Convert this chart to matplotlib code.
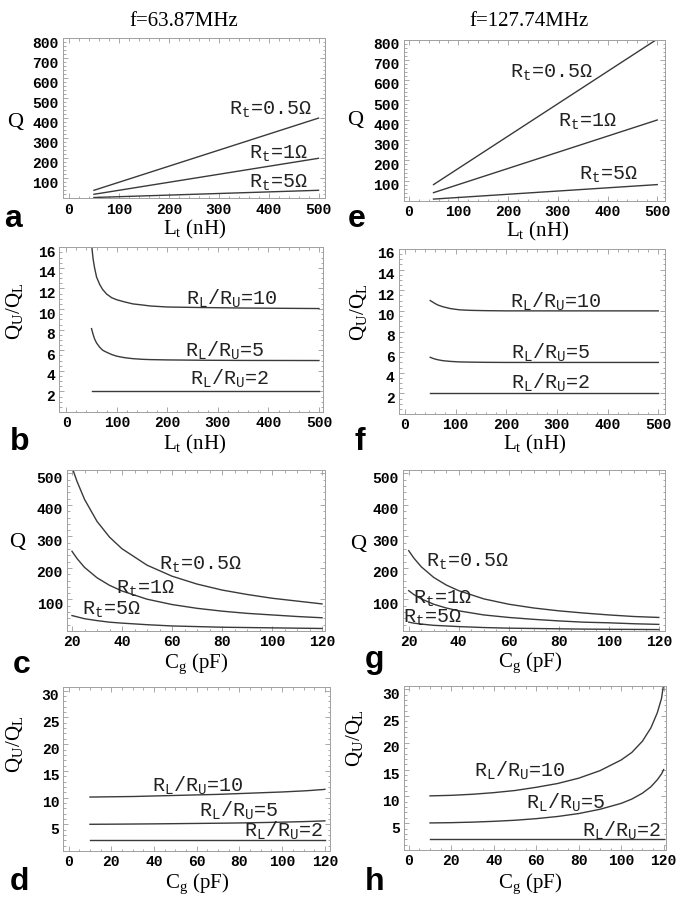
import numpy as np
import matplotlib.pyplot as plt
import matplotlib.transforms as mtransforms
from matplotlib.ticker import MultipleLocator

plt.rcParams['mathtext.fontset'] = 'custom'
plt.rcParams['mathtext.rm'] = 'Liberation Serif'
plt.rcParams['mathtext.tt'] = 'Liberation Mono'

# ---- values ----
# a / e : Q vs Lt, straight lines
lt_line = [50, 500]
qa_r05 = [40, 401]
qa_r1 = [20, 200]
qa_r5 = [4, 40]
qe_r05 = [80, 803]
qe_r1 = [40, 401]
qe_r5 = [8, 80]

# b : QU/QL vs Lt at 63.87 MHz
lt_b = [50, 53, 56, 60, 66, 72, 80, 90, 100, 115, 132, 150, 166, 200, 265, 350, 500]
rb_10 = [16.3, 14.9, 14.0, 13.1, 12.4, 11.9, 11.45, 11.1, 10.9, 10.7, 10.5, 10.4, 10.3, 10.2, 10.15, 10.1, 10.05]
rb_5 = [8.1, 7.55, 7.1, 6.7, 6.3, 6.0, 5.8, 5.58, 5.42, 5.28, 5.18, 5.12, 5.09, 5.06, 5.03, 5.01, 5.0]
rb_2 = [2.0, 2.0]

# f : QU/QL vs Lt at 127.74 MHz
lt_f = [50, 55, 60, 66, 75, 90, 108, 130, 160, 200, 300, 500]
rf_10 = [11.0, 10.85, 10.7, 10.55, 10.4, 10.22, 10.1, 10.05, 10.02, 10.0, 10.0, 10.0]
rf_5 = [5.5, 5.4, 5.32, 5.25, 5.17, 5.1, 5.05, 5.03, 5.01, 5.0, 5.0, 5.0]
rf_2 = [2.0, 2.0]

# c / g : Q vs Cg
cg_q = [20, 22, 25, 30, 35, 40, 50, 60, 70, 80, 90, 100, 110, 120]
qc_r05 = [520, 475, 418, 348, 298, 261, 209, 174, 149, 130, 116, 104, 95, 86]
qc_r1 = [253, 230, 202, 169, 145, 127, 101, 84, 72, 63, 56, 51, 46, 42]
qc_r5 = [49, 45, 39, 33, 28, 25, 20, 16, 14, 12, 11, 10, 9, 8]
qg_r05 = [255, 232, 204, 170, 146, 128, 102, 85, 73, 64, 57, 51, 46, 43]
qg_r1 = [128, 116, 102, 85, 73, 64, 51, 43, 37, 32, 28, 26, 23, 21]
qg_r5 = [28, 25, 22, 18, 16, 14, 11, 9, 8, 7, 6, 5.5, 5, 4.5]

# d / h : QU/QL vs Cg
cg_r = [10, 20, 30, 40, 50, 60, 70, 80, 90, 100, 105, 110, 114, 117, 119, 120]
rd_10 = [10.1, 10.15, 10.2, 10.3, 10.4, 10.5, 10.6, 10.75, 10.9, 11.05, 11.15, 11.25, 11.35, 11.45, 11.5, 11.55]
rd_5 = [5.0, 5.02, 5.05, 5.08, 5.12, 5.16, 5.2, 5.25, 5.32, 5.4, 5.45, 5.5, 5.55, 5.6, 5.62, 5.65]
rh_10 = [10.1, 10.2, 10.4, 10.7, 11.1, 11.7, 12.4, 13.4, 14.8, 16.8, 18.2, 20.3, 22.8, 25.6, 28.3, 31.0]
rh_5 = [5.05, 5.1, 5.2, 5.35, 5.55, 5.85, 6.25, 6.8, 7.6, 8.7, 9.5, 10.6, 11.8, 13.1, 14.2, 15.0]
cg_flat = [10, 120]
r_2 = [2.0, 2.0]

lbl_r05 = r'R$_\mathtt{t}$=0.5Ω'
lbl_r1 = r'R$_\mathtt{t}$=1Ω'
lbl_r5 = r'R$_\mathtt{t}$=5Ω'
lbl_10 = r'R$_\mathtt{L}$/R$_\mathtt{U}$=10'
lbl_5 = r'R$_\mathtt{L}$/R$_\mathtt{U}$=5'
lbl_2 = r'R$_\mathtt{L}$/R$_\mathtt{U}$=2'

W, H = 684, 904
fig = plt.figure(figsize=(W / 100, H / 100), dpi=100)
LINE = '#3a3a3a'


def box(l, r, t, b):
    return [l / W, 1 - b / H, (r - l) / W, (b - t) / H]


def at(x, y):
    return x / W, 1 - y / H


def panel(rect, xlim, ylim, xt, yt, xminor, yminor):
    ax = fig.add_axes(box(*rect))
    ax.set_xlim(*xlim)
    ax.set_ylim(*ylim)
    tf = dict(fontfamily='Liberation Mono', fontweight='bold', fontsize=10.5)
    ax.set_xticks(xt, labels=[str(v) for v in xt], **tf)
    ax.set_yticks(yt, labels=[str(v) for v in yt], **tf)
    ax.xaxis.set_minor_locator(MultipleLocator(xminor))
    ax.yaxis.set_minor_locator(MultipleLocator(yminor))
    ax.tick_params(which='both', direction='in', top=True, right=True,
                   color='#9a9a9a', width=0.6)
    ax.tick_params(which='major', length=3.5)
    ax.tick_params(which='minor', length=1.8)
    ax.tick_params(axis='x', pad=2.5)
    ax.tick_params(axis='y', pad=3)
    for sp in ax.spines.values():
        sp.set_color('#a0a0a0')
        sp.set_linewidth(0.7)
    shift = mtransforms.ScaledTranslation(0, -3 / 100, fig.dpi_scale_trans)
    for t in ax.get_yticklabels():
        t.set_transform(t.get_transform() + shift)
    return ax


def tag(ax, x, y, s):
    ax.text(x, y, s, family='Liberation Mono', fontsize=14.5, ha='center',
            va='baseline', color='#222222')


def label(x, y, s, rot=0, size=15):
    fig.text(*at(x, y), s, family='Liberation Serif', fontsize=size,
             ha='center', va='center', rotation=rot)


def letter(x, y, s):
    fig.text(*at(x, y), s, family='Liberation Sans', fontweight='bold',
             fontsize=23, ha='center', va='center')


# a
ax = panel((62.7, 325, 39.3, 199.3), (-12.6, 513), (0, 800),
           [0, 100, 200, 300, 400, 500], list(range(100, 801, 100)), 20, 20)
for q in (qa_r05, qa_r1, qa_r5):
    ax.plot(lt_line, q, color=LINE, lw=1.0)
tag(ax, 403, 421, lbl_r05)
tag(ax, 420, 205, lbl_r1)
tag(ax, 420, 60, lbl_r5)

# e
ax = panel((403.7, 664.7, 40.7, 201.7), (-10, 515), (0, 800),
           [0, 100, 200, 300, 400, 500], list(range(100, 801, 100)), 20, 20)
for q in (qe_r05, qe_r1, qe_r5):
    ax.plot(lt_line, q, color=LINE, lw=1.0)
tag(ax, 287, 614, lbl_r05)
tag(ax, 359, 373, lbl_r1)
tag(ax, 402, 108, lbl_r5)

# b
ax = panel((59.3, 323, 248.3, 413), (-13.8, 508), (0, 16),
           [0, 100, 200, 300, 400, 500], list(range(2, 17, 2)), 20, 0.5)
ax.plot(lt_b, rb_10, color=LINE, lw=1.0)
ax.plot(lt_b, rb_5, color=LINE, lw=1.0)
ax.plot(lt_line, rb_2, color=LINE, lw=1.0)
tag(ax, 328, 10.5, lbl_10)
tag(ax, 313, 5.46, lbl_5)
tag(ax, 324, 2.71, lbl_2)

# f
ax = panel((398.7, 664.7, 250, 415), (-12.2, 512.7), (0, 16),
           [0, 100, 200, 300, 400, 500], list(range(2, 17, 2)), 20, 0.5)
ax.plot(lt_f, rf_10, color=LINE, lw=1.0)
ax.plot(lt_f, rf_5, color=LINE, lw=1.0)
ax.plot(lt_line, rf_2, color=LINE, lw=1.0)
tag(ax, 297, 10.41, lbl_10)
tag(ax, 287, 5.45, lbl_5)
tag(ax, 287, 2.57, lbl_2)

# c
ax = panel((67, 325, 471, 632), (18, 121.2), (0, 511),
           [20, 40, 60, 80, 100, 120], list(range(100, 501, 100)), 5, 20)
for q in (qc_r05, qc_r1, qc_r5):
    ax.plot(cg_q, q, color=LINE, lw=1.0)
tag(ax, 71.5, 197, lbl_r05)
tag(ax, 49.2, 123, lbl_r1)
tag(ax, 35.8, 54, lbl_r5)

# g
ax = panel((402.7, 665.3, 471, 632), (17.6, 122.6), (0, 511),
           [20, 40, 60, 80, 100, 120], list(range(100, 501, 100)), 5, 20)
for q in (qg_r05, qg_r1, qg_r5):
    ax.plot(cg_q, q, color=LINE, lw=1.0)
tag(ax, 43.6, 207, lbl_r05)
tag(ax, 33.6, 90, lbl_r1)
tag(ax, 29.6, 31, lbl_r5)

# d
ax = panel((63.3, 330, 688, 852), (-2.5, 122.4), (0, 30.7),
           [0, 20, 40, 60, 80, 100, 120], list(range(5, 31, 5)), 5, 1)
ax.plot(cg_r, rd_10, color=LINE, lw=1.0)
ax.plot(cg_r, rd_5, color=LINE, lw=1.0)
ax.plot(cg_flat, r_2, color=LINE, lw=1.0)
tag(ax, 60.3, 11.2, lbl_10)
tag(ax, 79.8, 6.56, lbl_5)
tag(ax, 100.9, 2.85, lbl_2)

# h
ax = panel((403.7, 666, 687, 851), (-2.4, 121.1), (0, 30.6),
           [0, 20, 40, 60, 80, 100, 120], list(range(5, 31, 5)), 5, 1)
ax.plot(cg_r, rh_10, color=LINE, lw=1.0)
ax.plot(cg_r, rh_5, color=LINE, lw=1.0)
ax.plot(cg_flat, r_2, color=LINE, lw=1.0)
tag(ax, 52.1, 13.9, lbl_10)
tag(ax, 74.1, 7.96, lbl_5)
tag(ax, 100.4, 2.67, lbl_2)

# titles, axis labels, panel letters
label(184, 22, 'f=63.87MHz')
label(529, 22, 'f=127.74MHz')

qlab = r'Q$_\mathrm{U}$/Q$_\mathrm{L}$'
for x, y in [(15, 122), (355, 120), (17, 543), (358, 544)]:
    label(x, y, 'Q', size=16)
for x, y in [(15, 311), (359, 312), (15, 744), (355, 738)]:
    label(x, y, qlab, rot=90)
for x, y in [(195, 229), (538, 231), (195, 444), (535, 444)]:
    label(x, y, r'L$_\mathrm{t}$ (nH)')
for x, y in [(196, 664), (530, 663), (197, 884), (530, 884)]:
    label(x, y, r'C$_\mathrm{g}$ (pF)')

for x, y, s in [(13, 219, 'a'), (357, 219, 'e'), (20, 442, 'b'), (360, 442, 'f'),
                (22, 665, 'c'), (375, 660, 'g'), (19, 882, 'd'), (375, 882, 'h')]:
    letter(x, y, s)

fig.savefig('out.png', dpi=100, facecolor='white')
